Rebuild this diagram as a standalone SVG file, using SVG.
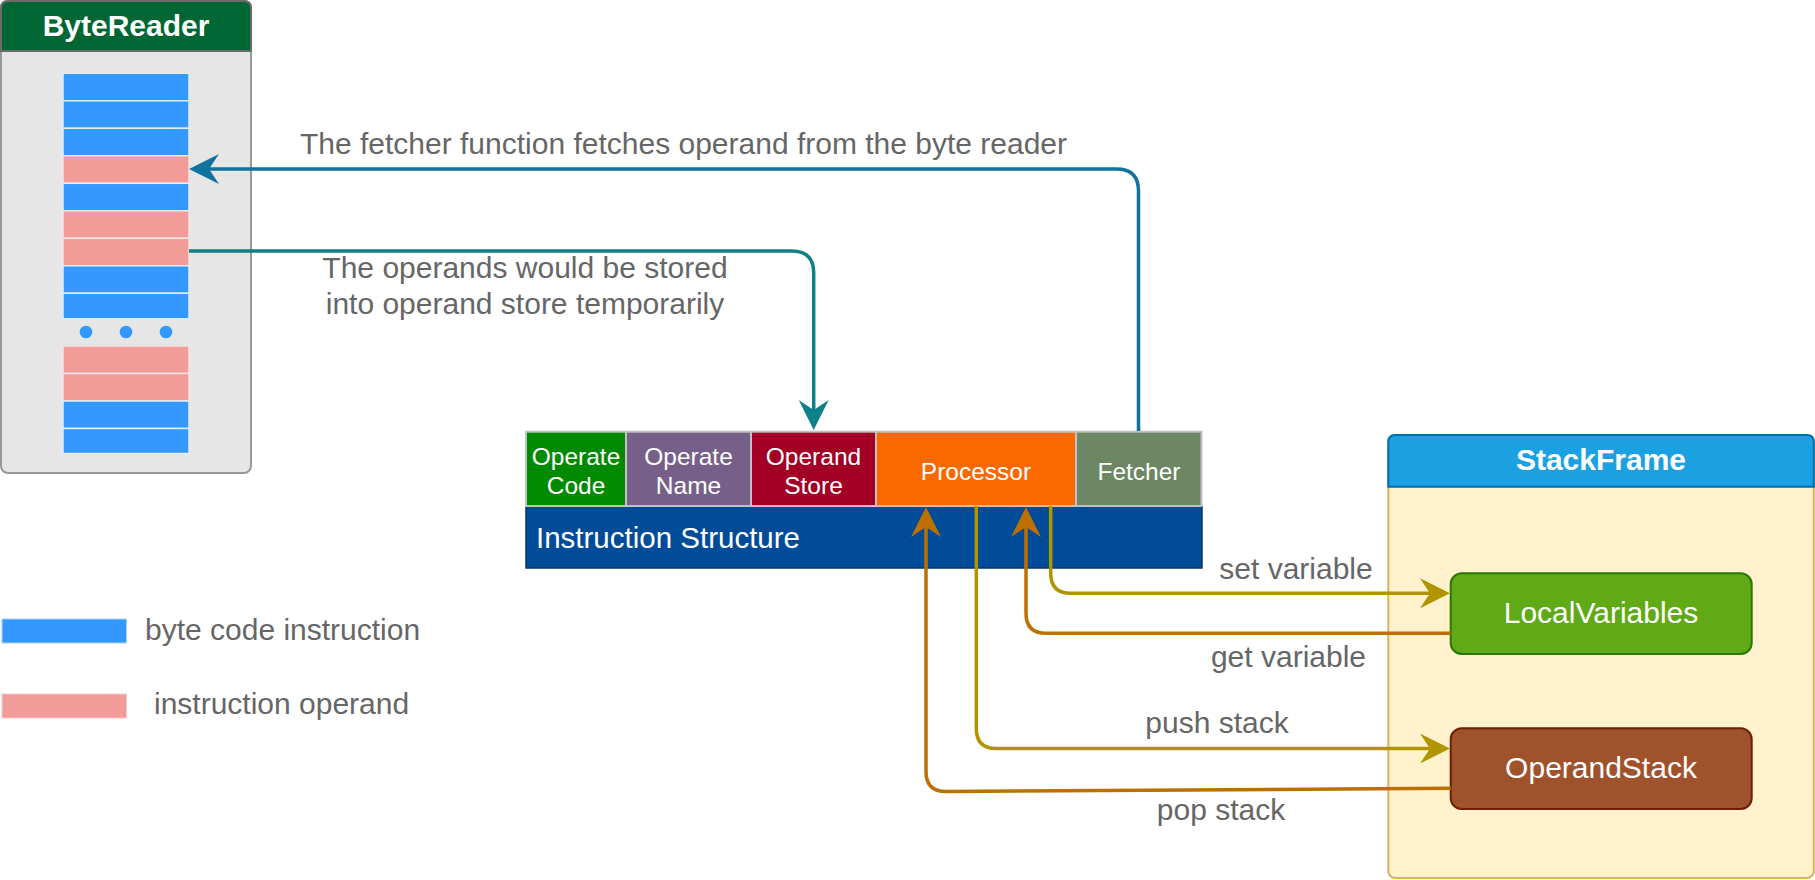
<svg xmlns="http://www.w3.org/2000/svg" width="1815" height="880" viewBox="0 0 1815 880">
<style>
text{font-family:"Liberation Sans",Arial,sans-serif;}
.lbl{font-size:30px;fill:#666666;}
.title{font-size:30px;font-weight:bold;fill:#ffffff;text-anchor:middle;}
.cell{font-size:24.5px;fill:#ffffff;text-anchor:middle;}
.node{font-size:30px;fill:#ffffff;text-anchor:middle;}
.bc{fill:#3399FF;stroke:#e4ecf5;stroke-width:1.5;}
.op{fill:#F19C99;stroke:#f2e4e4;stroke-width:1.5;}
.ic{stroke:#C2C2C2;stroke-width:2;}
.edge{fill:none;stroke-width:3.5;}
</style>
<defs>
<marker id="aBlue" markerUnits="userSpaceOnUse" viewBox="0 0 30 30" markerWidth="30" markerHeight="30" refX="10" refY="15" orient="auto"><path d="M0,0 L30,15 L0,30 L10,15 Z" fill="#10739E"/></marker>
<marker id="aTeal" markerUnits="userSpaceOnUse" viewBox="0 0 30 30" markerWidth="30" markerHeight="30" refX="10" refY="15" orient="auto"><path d="M0,0 L30,15 L0,30 L10,15 Z" fill="#0E8088"/></marker>
<marker id="aYel" markerUnits="userSpaceOnUse" viewBox="0 0 30 30" markerWidth="30" markerHeight="30" refX="10" refY="15" orient="auto"><path d="M0,0 L30,15 L0,30 L10,15 Z" fill="#B09500"/></marker>
<marker id="aOra" markerUnits="userSpaceOnUse" viewBox="0 0 30 30" markerWidth="30" markerHeight="30" refX="10" refY="15" orient="auto"><path d="M0,0 L30,15 L0,30 L10,15 Z" fill="#BD7000"/></marker>
</defs>
<rect x="0" y="0" width="1815" height="880" fill="#ffffff"/>

<g id="byteReader">
<rect x="1" y="1" width="250" height="472" rx="7" fill="#E6E6E6" stroke="#999999" stroke-width="2"/>
<path d="M1,51 V8 Q1,1 8,1 H244 Q251,1 251,8 V51 Z" fill="#006633" stroke="#6b6b6b" stroke-width="2"/>
<text class="title" x="126" y="36">ByteReader</text>
<rect class="bc" x="63" y="73.3" width="126" height="27.5"/>
<rect class="bc" x="63" y="100.8" width="126" height="27.5"/>
<rect class="bc" x="63" y="128.3" width="126" height="27.5"/>
<rect class="op" x="63" y="155.8" width="126" height="27.5"/>
<rect class="bc" x="63" y="183.3" width="126" height="27.5"/>
<rect class="op" x="63" y="210.8" width="126" height="27.5"/>
<rect class="op" x="63" y="238.3" width="126" height="27.5"/>
<rect class="bc" x="63" y="265.8" width="126" height="27.5"/>
<rect class="bc" x="63" y="293.3" width="126" height="25.5"/>
<circle cx="86" cy="332" r="6.3" fill="#3399FF"/>
<circle cx="126" cy="332" r="6.3" fill="#3399FF"/>
<circle cx="166" cy="332" r="6.3" fill="#3399FF"/>
<rect class="op" x="63" y="346" width="126" height="27.5"/>
<rect class="op" x="63" y="373.5" width="126" height="27.5"/>
<rect class="bc" x="63" y="401" width="126" height="27.5"/>
<rect class="bc" x="63" y="428.5" width="126" height="25"/>
</g>

<g id="legend">
<rect x="2" y="619" width="124.5" height="24" fill="#3399FF" stroke="#a8d2ff" stroke-width="1"/>
<text class="lbl" x="145" y="640">byte code instruction</text>
<rect x="2" y="694" width="124.5" height="24" fill="#F19C99" stroke="#f7c9c7" stroke-width="1"/>
<text class="lbl" x="154" y="714"> instruction operand</text>
</g>

<g id="instructionStructure">
<rect x="526" y="506" width="676" height="62" fill="#004C99" stroke="#00366e" stroke-width="1.5"/>
<text x="536" y="547.5" style="font-size:29.5px;fill:#ffffff;">Instruction Structure</text>
</g>
<g id="operateCode">
<rect class="ic" x="526" y="431.7" width="100" height="74.3" fill="#008A00"/>
<text class="cell" x="576" y="465">Operate</text>
<text class="cell" x="576" y="494">Code</text>
</g>
<g id="operateName">
<rect class="ic" x="626" y="431.7" width="125" height="74.3" fill="#76608A"/>
<text class="cell" x="688.5" y="465">Operate</text>
<text class="cell" x="688.5" y="494">Name</text>
</g>
<g id="operandStore">
<rect class="ic" x="751" y="431.7" width="125" height="74.3" fill="#A20025"/>
<text class="cell" x="813.5" y="465">Operand</text>
<text class="cell" x="813.5" y="494">Store</text>
</g>
<g id="processor">
<rect class="ic" x="876" y="431.7" width="200" height="74.3" fill="#FA6800"/>
<text class="cell" x="976" y="480">Processor</text>
</g>
<g id="fetcher">
<rect class="ic" x="1076" y="431.7" width="125.5" height="74.3" fill="#6D8764"/>
<text class="cell" x="1139" y="480">Fetcher</text>
</g>

<g id="stackFrame">
<rect x="1388.3" y="435" width="425.5" height="443" rx="7" fill="#FFF2CC" stroke="#D6B656" stroke-width="2"/>
<path d="M1388.3,486.7 V442 Q1388.3,435 1395.3,435 H1806.8 Q1813.8,435 1813.8,442 V486.7 Z" fill="#1BA1E2" stroke="#006EAF" stroke-width="2"/>
<text class="title" x="1601" y="470">StackFrame</text>
</g>
<g id="localVariables">
<rect x="1450.7" y="573.3" width="301" height="80.7" rx="11" fill="#60A917" stroke="#2D7600" stroke-width="2"/>
<text class="node" x="1601" y="622.7">LocalVariables</text>
</g>
<g id="operandStack">
<rect x="1450.7" y="728.3" width="301" height="80.7" rx="11" fill="#A0522D" stroke="#6D1F00" stroke-width="2"/>
<text class="node" x="1601" y="777.7">OperandStack</text>
</g>

<g id="connectors">
<path class="edge" stroke="#10739E" marker-end="url(#aBlue)" d="M1138.5,431 L1138.5,191 Q1138.5,169 1116.5,169 L209,169"/>
<path class="edge" stroke="#0E8088" marker-end="url(#aTeal)" d="M189,251 L791.7,251 Q813.7,251 813.7,273 L813.7,410"/>
<path class="edge" stroke="#B09500" marker-end="url(#aYel)" d="M1050.7,506 L1050.7,573.3 Q1050.7,593.3 1070.7,593.3 L1430,593.3"/>
<path class="edge" stroke="#BD7000" marker-end="url(#aOra)" d="M1450.7,633.3 L1046,633.3 Q1026,633.3 1026,613.3 L1026,527"/>
<path class="edge" stroke="#B09500" marker-end="url(#aYel)" d="M976.3,506 L976.3,728.5 Q976.3,748.5 996.3,748.5 L1430,748.5"/>
<path class="edge" stroke="#BD7000" marker-end="url(#aOra)" d="M1450.7,788.3 L946,791.5 Q926,791.5 926,771.5 L926,527"/>
<text class="lbl" x="683.5" y="154" text-anchor="middle">The fetcher function fetches operand from the byte reader</text>
<text class="lbl" x="525" y="278.3" text-anchor="middle">The operands would be stored</text>
<text class="lbl" x="525" y="314.3" text-anchor="middle">into operand store temporarily</text>
<text class="lbl" x="1296" y="579.3" text-anchor="middle">set variable</text>
<text class="lbl" x="1288.5" y="666.7" text-anchor="middle">get variable</text>
<text class="lbl" x="1217" y="733.3" text-anchor="middle">push stack</text>
<text class="lbl" x="1221" y="820" text-anchor="middle">pop stack</text>
</g>
</svg>
